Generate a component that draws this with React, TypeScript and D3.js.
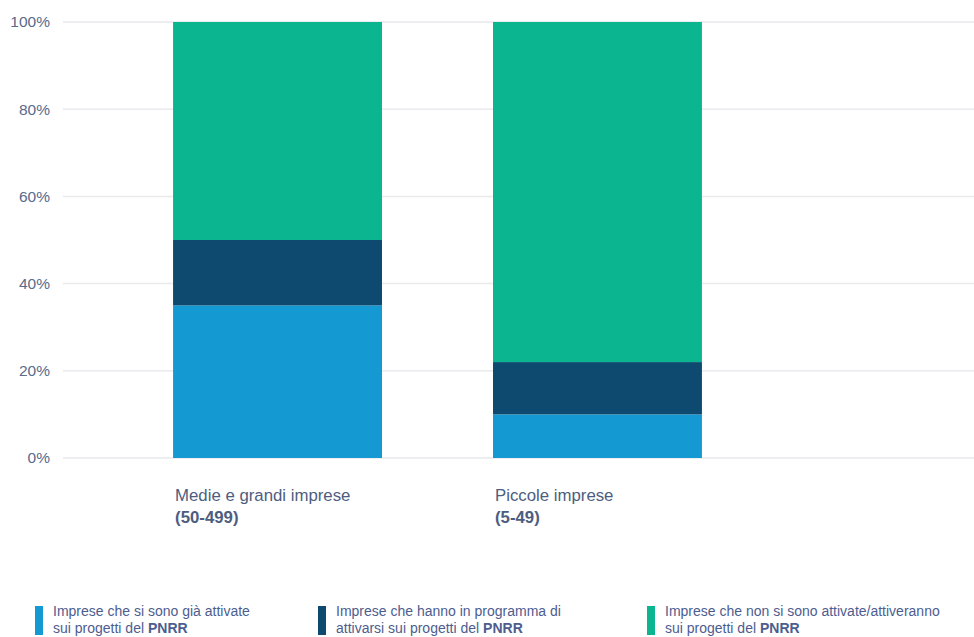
import React from "react";
import * as d3 from "d3";

const categories = ["Medie e grandi imprese", "Piccole imprese"];
const categorySub = ["(50-499)", "(5-49)"];
const seriesNames = [
  ["Imprese che si sono già attivate", "sui progetti del "],
  ["Imprese che hanno in programma di", "attivarsi sui progetti del "],
  ["Imprese che non si sono attivate/attiveranno", "sui progetti del "],
];
const attivate = [35, 10];
const inProgramma = [15, 12];
const nonAttivate = [50, 78];
const yTicks = [0, 20, 40, 60, 80, 100];
const colors = ["#1499d2", "#0e4a6f", "#0ab58f"];

const W = 974;
const H = 637;

export default function App() {
  const y = d3.scaleLinear().domain([0, 100]).range([458, 22]);
  const x = d3
    .scaleBand<string>()
    .domain(categories)
    .range([63, 812])
    .paddingInner(0.347)
    .paddingOuter(0.344);
  const rows = categories.map((c, i) => ({
    cat: c,
    s0: attivate[i],
    s1: inProgramma[i],
    s2: nonAttivate[i],
  }));
  const stack = d3.stack<any>().keys(["s0", "s1", "s2"]);
  const series = stack(rows);
  const tickColor = "#5a6a8c";
  const legendX = [35, 318, 647];

  return (
    <svg
      width={W}
      height={H}
      style={{ position: "absolute", left: 0, top: 0, background: "#fff" }}
      fontFamily="'Liberation Sans', Arial, sans-serif"
    >
      {yTicks.map((t) => (
        <g key={t}>
          <line x1={63} x2={974} y1={y(t)} y2={y(t)} stroke="#e9e9ee" strokeWidth={1.5} />
          <text x={50} y={y(t)} dy="0.35em" textAnchor="end" fontSize={15.5} fill={tickColor}>
            {t}%
          </text>
        </g>
      ))}
      {series.map((s, si) =>
        s.map((d, i) => (
          <rect
            key={si + "-" + i}
            x={x(categories[i])}
            width={x.bandwidth()}
            y={y(d[1])}
            height={y(d[0]) - y(d[1])}
            fill={colors[si]}
          />
        ))
      )}
      {categories.map((c, i) => (
        <g key={c}>
          <text x={(x(c) as number) + 2} y={501} fontSize={16.8} fill="#4d5d7f">
            {c}
          </text>
          <text x={(x(c) as number) + 2} y={523} fontSize={16.8} fontWeight="bold" fill="#4d5d7f">
            {categorySub[i]}
          </text>
        </g>
      ))}
      {seriesNames.map((n, i) => (
        <g key={i}>
          <rect x={legendX[i]} y={606} width={8} height={29} fill={colors[i]} />
          <text x={legendX[i] + 18} y={616} fontSize={14} fill="#4d5d8f">
            {n[0]}
          </text>
          <text x={legendX[i] + 18} y={633} fontSize={14} fill="#4d5d8f">
            {n[1]}
            <tspan fontWeight="bold">PNRR</tspan>
          </text>
        </g>
      ))}
    </svg>
  );
}
